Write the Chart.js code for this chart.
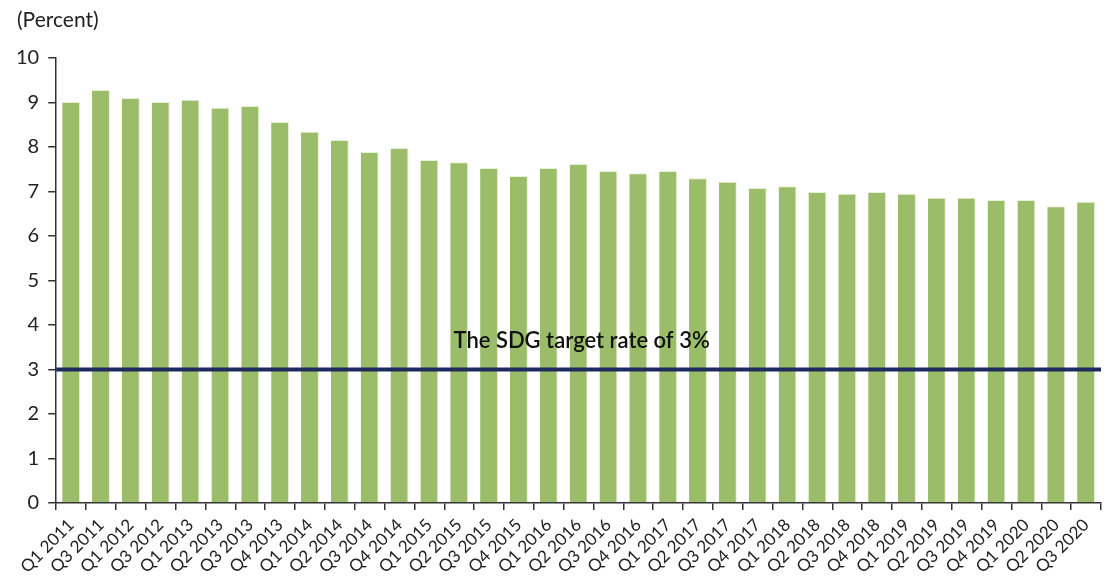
<!DOCTYPE html>
<html>
<head>
<meta charset="utf-8">
<script src="https://cdn.jsdelivr.net/npm/chart.js@4/dist/chart.umd.min.js"></script>
<style>
  html, body { margin: 0; padding: 0; background: #fff; }
  #wrap { width: 1109px; height: 582px; }
</style>
</head>
<body>
<div id="wrap"><canvas id="grafico"></canvas></div>
<script>
const trimestres = [
    'Q1 2011', 'Q3 2011', 'Q1 2012', 'Q3 2012', 'Q1 2013', 'Q2 2013', 'Q3 2013', 'Q4 2013',
    'Q1 2014', 'Q2 2014', 'Q3 2014', 'Q4 2014', 'Q1 2015', 'Q2 2015', 'Q3 2015', 'Q4 2015',
    'Q1 2016', 'Q2 2016', 'Q3 2016', 'Q4 2016', 'Q1 2017', 'Q2 2017', 'Q3 2017', 'Q4 2017',
    'Q1 2018', 'Q2 2018', 'Q3 2018', 'Q4 2018', 'Q1 2019', 'Q2 2019', 'Q3 2019', 'Q4 2019',
    'Q1 2020', 'Q2 2020', 'Q3 2020'
];
const costos = [
    9.01, 9.28, 9.10, 9.01, 9.06, 8.88, 8.92, 8.56,
    8.34, 8.16, 7.89, 7.98, 7.71, 7.66, 7.53, 7.35,
    7.53, 7.62, 7.46, 7.41, 7.46, 7.30, 7.22, 7.08,
    7.12, 6.99, 6.95, 6.99, 6.95, 6.86, 6.86, 6.81,
    6.81, 6.67, 6.77
];
const meta = 3;
const textoMeta = 'The SDG target rate of 3%';
const unidad = '(Percent)';

// linea horizontal de la meta, dibujada con la escala y
const lineaMeta = {
    id: 'lineaMeta',
    afterDatasetsDraw(chart) {
        const { ctx, chartArea, scales } = chart;
        const y = scales.y.getPixelForValue(meta);
        ctx.save();
        ctx.strokeStyle = '#1f2a5e';
        ctx.lineWidth = 4;
        ctx.beginPath();
        ctx.moveTo(chartArea.left, y);
        ctx.lineTo(chartArea.right, y);
        ctx.stroke();
        ctx.fillStyle = '#111';
        ctx.font = '600 22px Lato, "Open Sans", sans-serif';
        ctx.textAlign = 'center';
        ctx.textBaseline = 'alphabetic';
        ctx.fillText(textoMeta, (chartArea.left + chartArea.right) / 2 + 3, y - 22);

        // etiqueta de unidades arriba a la izquierda
        ctx.fillStyle = '#222';
        ctx.font = '21px Lato, "Open Sans", sans-serif';
        ctx.textAlign = 'left';
        ctx.textBaseline = 'middle';
        ctx.fillText(unidad, 17, 20);
        ctx.restore();
    }
};

const ctx = document.getElementById('grafico').getContext('2d');

const data = {
    labels: trimestres,
    datasets: [{
        data: costos,
        backgroundColor: '#9bbd6a',
        borderColor: '#e6f0d6',
        borderWidth: { top: 1, left: 0, right: 1, bottom: 0 },
        barPercentage: 0.6,
        categoryPercentage: 1.0,
    }],
};

const config = {
    type: 'bar',
    data: data,
    options: {
        responsive: true,
        maintainAspectRatio: false,
        animation: false,
        layout: { padding: { left: 7, right: 8, top: 58, bottom: 0 } },
        plugins: {
            legend: { display: false },
            tooltip: { enabled: false },
        },
        scales: {
            x: {
                grid: {
                    offset: true,
                    drawOnChartArea: false,
                    drawTicks: true,
                    tickLength: 7,
                    color: '#333',
                    lineWidth: 1.5,
                },
                border: { color: '#333', width: 1.5 },
                ticks: {
                    maxRotation: 45,
                    minRotation: 45,
                    autoSkip: false,
                    color: '#222',
                    padding: 5,
                    font: { family: 'Lato, "Open Sans", sans-serif', size: 17 },
                },
            },
            y: {
                min: 0,
                max: 10,
                grid: {
                    drawOnChartArea: false,
                    drawTicks: true,
                    tickLength: 8,
                    color: '#333',
                    lineWidth: 1.5,
                },
                border: { color: '#333', width: 1.5 },
                ticks: {
                    stepSize: 1,
                    color: '#222',
                    padding: 9,
                    font: { family: 'Lato, "Open Sans", sans-serif', size: 20 },
                },
            },
        },
    },
    plugins: [lineaMeta],
};

const grafico = new Chart(ctx, config);
</script>
</body>
</html>
